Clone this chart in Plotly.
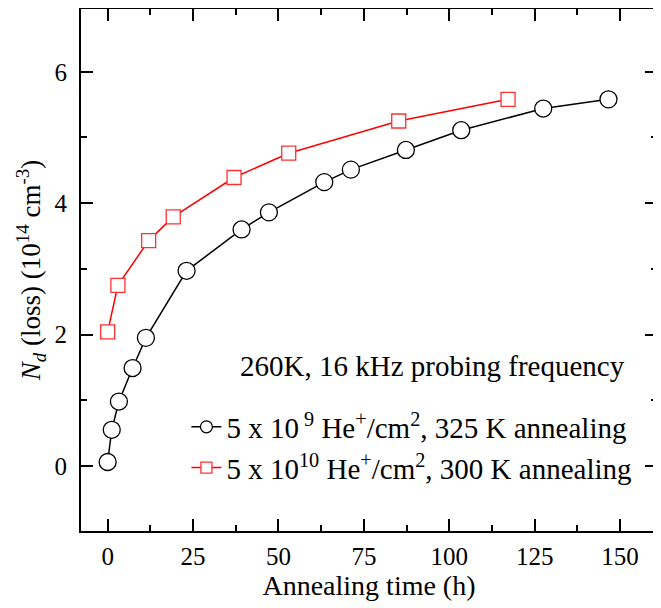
import plotly.graph_objects as go

# Series 1: 5e9 He+/cm2, 325 K annealing
t1 = [0.0, 1.2, 3.3, 7.3, 11.2, 23.1, 39.2, 47.2, 63.4, 71.2, 87.3, 103.5, 127.5, 146.6]
n1 = [0.06, 0.55, 0.98, 1.49, 1.95, 2.97, 3.60, 3.86, 4.32, 4.51, 4.81, 5.11, 5.44, 5.58]
# Series 2: 5e10 He+/cm2, 300 K annealing
t2 = [0.0, 3.0, 12.0, 19.2, 37.0, 53.0, 85.2, 117.2]
n2 = [2.04, 2.75, 3.43, 3.79, 4.39, 4.76, 5.25, 5.58]

name1 = "5 x 10<sup> 9</sup> He<sup>+</sup>/cm<sup>2</sup>, 325 K annealing"
name2 = "5 x 10<sup>10</sup> He<sup>+</sup>/cm<sup>2</sup>, 300 K annealing"
note = "260K, 16 kHz probing frequency"

x_ticks = [0, 25, 50, 75, 100, 125, 150]
y_ticks = [0, 2, 4, 6]

FONT = "Liberation Serif"
RED = "#ff0000"

fig = go.Figure()
fig.add_trace(go.Scatter(
    x=t1, y=n1, name=name1, mode="lines+markers", showlegend=False,
    line=dict(color="black", width=1.5),
    marker=dict(symbol="circle", size=17, color="white", line=dict(color="black", width=1.3)),
))
fig.add_trace(go.Scatter(
    x=t2, y=n2, name=name2, mode="lines+markers", showlegend=False,
    line=dict(color=RED, width=1.5),
    marker=dict(symbol="square", size=14, color="white", line=dict(color="#ff3030", width=1.3)),
))
# legend entries (smaller symbols as in the reference legend)
fig.add_trace(go.Scatter(
    x=[None], y=[None], name=name1, mode="lines+markers", legendgroup="a",
    line=dict(color="black", width=1.5),
    marker=dict(symbol="circle", size=12, color="white", line=dict(color="black", width=1.3)),
))
fig.add_trace(go.Scatter(
    x=[None], y=[None], name=name2, mode="lines+markers", legendgroup="b",
    line=dict(color=RED, width=1.5),
    marker=dict(symbol="square", size=11, color="white", line=dict(color="#ff3030", width=1.3)),
))

axis_common = dict(
    showline=True, linecolor="black", linewidth=2, mirror="allticks",
    ticks="inside", ticklen=12, tickwidth=2, tickcolor="black",
    showgrid=False, zeroline=False,
    tickfont=dict(family=FONT, size=25, color="black"),
)

fig.update_xaxes(
    range=[-7.8, 160.8], tickvals=x_ticks,
    minor=dict(dtick=12.5, ticks="inside", ticklen=6, tickwidth=2, tickcolor="black", showgrid=False),
    ticklabelstandoff=2,
    title=dict(text="Annealing time (h)", font=dict(family=FONT, size=28, color="black"), standoff=2),
    **axis_common,
)
fig.update_yaxes(
    range=[-0.99, 6.955], tickvals=y_ticks,
    minor=dict(dtick=1, ticks="inside", ticklen=6, tickwidth=2, tickcolor="black", showgrid=False),
    ticklabelstandoff=7,
    title=dict(text="<i>N<sub>d</sub></i> (loss) (10<sup>14</sup> cm<sup>-3</sup>)",
               font=dict(family=FONT, size=27, color="black"), standoff=6),
    **axis_common,
)

fig.add_annotation(
    text=note, xref="paper", yref="paper", x=0.611, y=0.316,
    xanchor="center", yanchor="middle", showarrow=False,
    font=dict(family=FONT, size=29, color="black"),
)

fig.update_layout(
    width=661, height=608,
    margin=dict(l=73, r=12, t=1, b=85, autoexpand=False),
    paper_bgcolor="white", plot_bgcolor="white",
    showlegend=True,
    legend=dict(
        x=0.183, y=0.16, xanchor="left", yanchor="middle",
        bgcolor="rgba(0,0,0,0)", font=dict(family=FONT, size=29, color="black"),
        traceorder="grouped", tracegroupgap=0,
    ),
    font=dict(family=FONT, color="black"),
)

fig.write_html("out.html")
